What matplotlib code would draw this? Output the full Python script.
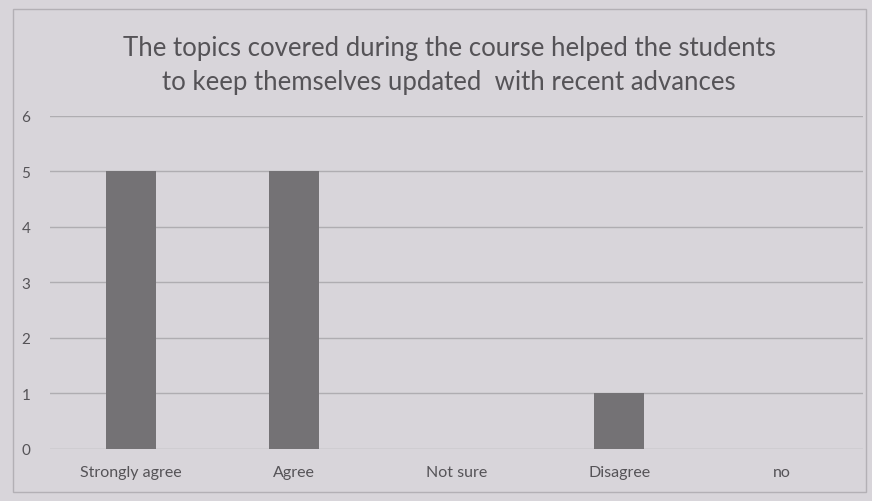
import matplotlib
matplotlib.use("Agg")
import matplotlib.pyplot as plt
from matplotlib.patches import Rectangle

categories = ["Strongly agree", "Agree", "Not sure", "Disagree", "no"]
values = [5, 5, 0, 1, 0]
yticks = [0, 1, 2, 3, 4, 5, 6]
title = "The topics covered during the course helped the students\nto keep themselves updated  with recent advances"

plt.rcParams['font.family'] = ['Lato', 'DejaVu Sans']
bg = "#d8d5da"
fig = plt.figure(figsize=(8.72, 5.02), dpi=100, facecolor=bg)
ax = fig.add_axes([0.057, 0.104, 0.933, 0.663], facecolor=bg)

ax.bar(range(len(categories)), values, width=0.31, color="#747275", zorder=3)
ax.set_xlim(-0.5, len(categories) - 0.5)
ax.set_ylim(0, 6)
ax.set_yticks(yticks)
ax.set_xticks(range(len(categories)))
ax.set_xticklabels(categories, fontsize=11.5, color="#555357")
ax.tick_params(axis='y', labelsize=11, colors="#555357", length=0, pad=14)
ax.tick_params(axis='x', length=0, pad=12)
ax.grid(axis='y', color="#afadb1", linewidth=1, zorder=0)
for s in ax.spines.values():
    s.set_visible(False)

fig.text(0.515, 0.869, title, ha='center', va='center', fontsize=18.5,
         color="#555357", linespacing=1.45)

fig.patches.append(Rectangle((0.015, 0.018), 0.978, 0.962, transform=fig.transFigure,
                             fill=False, edgecolor="#b3b0b5", linewidth=1))

fig.savefig("out.png", dpi=100, facecolor=bg)
